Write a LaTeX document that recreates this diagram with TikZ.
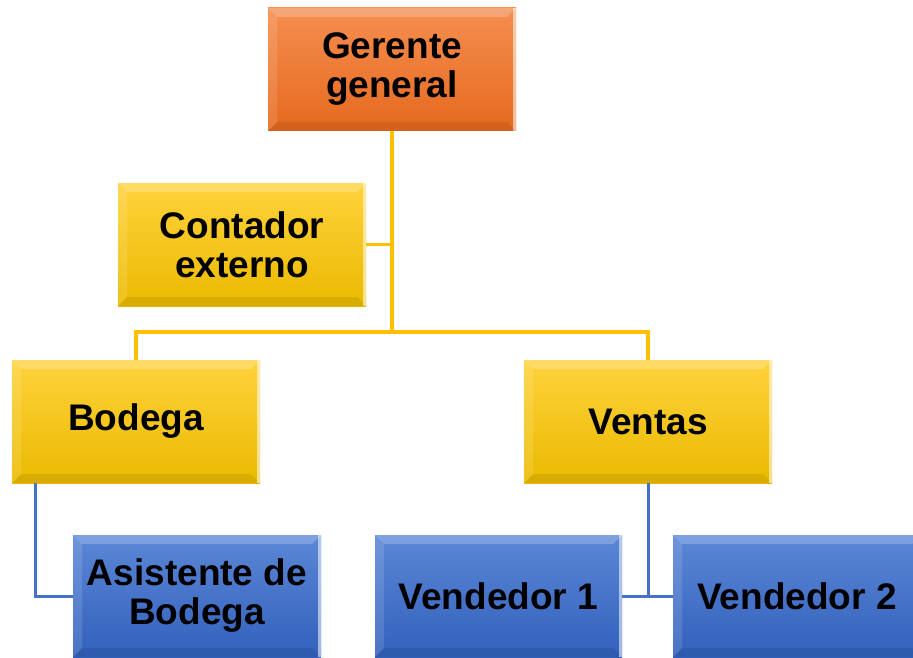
\documentclass[tikz,border=0pt]{standalone}
\usepackage{fontspec}
\setmainfont{Liberation Sans}
\usetikzlibrary{positioning}
\definecolor{naranjaA}{HTML}{F58E50}
\definecolor{naranjaB}{HTML}{E5691E}
\definecolor{amarilloA}{HTML}{FFD23C}
\definecolor{amarilloB}{HTML}{EABA00}
\definecolor{azulA}{HTML}{5C87D6}
\definecolor{azulB}{HTML}{3261BC}
\definecolor{lineaA}{HTML}{FFC000}
\definecolor{lineaB}{HTML}{4472C4}
\tikzset{
  caja/.style={rectangle, minimum width=248pt, minimum height=123pt, inner sep=0pt,
    align=center, font=\fontsize{37}{39}\selectfont\bfseries,
    path picture={
      \fill[white,opacity=0.22] (path picture bounding box.north west) -- (path picture bounding box.north east)
        -- ([shift={(-9pt,-9pt)}]path picture bounding box.north east) -- ([shift={(9pt,-9pt)}]path picture bounding box.north west) -- cycle;
      \fill[white,opacity=0.12] (path picture bounding box.north west) -- ([shift={(9pt,-9pt)}]path picture bounding box.north west)
        -- ([shift={(9pt,9pt)}]path picture bounding box.south west) -- (path picture bounding box.south west) -- cycle;
      \fill[black,opacity=0.08] (path picture bounding box.south west) -- ([shift={(9pt,9pt)}]path picture bounding box.south west)
        -- ([shift={(-9pt,9pt)}]path picture bounding box.south east) -- (path picture bounding box.south east) -- cycle;
      \fill[white,opacity=0.55] ([xshift=-3pt]path picture bounding box.north east) rectangle (path picture bounding box.south east);
    }},
  gerente/.style={caja, top color=naranjaA, bottom color=naranjaB},
  area/.style={caja, top color=amarilloA, bottom color=amarilloB},
  puesto/.style={caja, top color=azulA, bottom color=azulB, minimum height=122pt},
  ylink/.style={draw=lineaA, line width=3.5pt},
  blink/.style={draw=lineaB, line width=3pt}
}
\begin{document}
\begin{tikzpicture}[x=1pt, y=-1pt]
  \useasboundingbox (0,0) rectangle (913,658);
  % cajas
  \node[gerente] (ger) at (392,69.5) {Gerente\\general};
  \node[area] (cont) at (242,244.5) {Contador\\externo};
  \node[area] (bod) at (136,421.5) {Bodega};
  \node[area] (ven) at (648,421.5) {Ventas};
  \node[puesto] (asis) at (197,596) {Asistente de\\Bodega};
  \node[puesto, minimum width=247pt] (vend1) at (498.5,596) {Vendedor 1};
  \node[puesto] (vend2) at (797,596) {Vendedor 2};
  % lineas
  \coordinate (hub) at (392,332);
  \draw[ylink] (ger.south) -- (hub);
  \draw[ylink] (cont.east) -- (cont.east -| ger.south);
  \draw[ylink] (bod.north) |- (hub) -| (ven.north);
  \draw[blink] ([xshift=24pt]bod.south west) |- (asis.west);
  \draw[blink] (ven.south) |- (vend1.east);
  \draw[blink] (ven.south) |- (vend2.west);
\end{tikzpicture}
\end{document}
